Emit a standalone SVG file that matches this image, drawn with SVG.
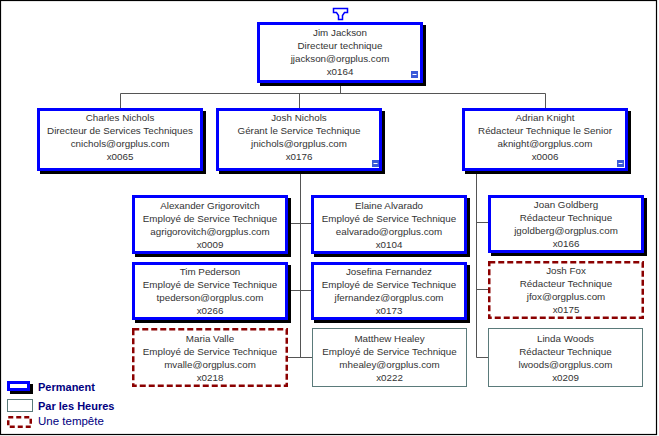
<svg xmlns="http://www.w3.org/2000/svg" width="659" height="436" viewBox="0 0 659 436">
<style>
.sh{fill:#000}
.perm{fill:#fff;stroke:#0000ff;stroke-width:3}
.hour{fill:#fff;stroke:#5a7a7a;stroke-width:1}
.temp{fill:#fff;stroke:#8b0000;stroke-width:2.5;stroke-dasharray:6 3}
.t{font-family:"Liberation Sans",Arial,sans-serif;font-size:9.8px;fill:#333;text-anchor:middle}
.lg{font-family:"Liberation Sans",Arial,sans-serif;font-size:11px;fill:#000080;font-weight:bold}
.cn{stroke:#555;stroke-width:1;fill:none}
.mi{fill:#3a5ad8}
</style>
<defs>
<g id="minus"><rect class="mi" x="0" y="0" width="7" height="7"/><rect x="1.5" y="3" width="4" height="1" fill="#fff"/></g>
</defs>
<rect x="0.5" y="0.5" width="656" height="434" fill="#fff" stroke="#000" stroke-width="1.2"/>

<g id="connectors">
<path class="cn" d="M340.5 86V93.5M120.5 93.5H545.5M120.5 93.5V108M299.5 93.5V108M545.5 93.5V108"/>
<path class="cn" d="M300.5 174V357.5M288 223.5H311M288 290.5H311M287 357.5H312"/>
<path class="cn" d="M476.5 174V357.5M476.5 222.5H488M476.5 289.5H488M476.5 357.5H488"/>
</g>

<g id="top-icon">
<path d="M333.5 8.5H347.5V12.5H344.5L342.5 15.5V19.5H338.5V15.5L336.5 12.5H333.5Z" fill="#fff" stroke="#0000ff" stroke-width="1.5"/>
</g>

<g id="n-jim">
<rect class="sh" x="260" y="25" width="166" height="61"/>
<rect class="perm" x="258.5" y="23.5" width="163" height="58"/>
<text class="t" x="340" y="35.5">Jim Jackson</text>
<text class="t" x="340" y="48.5">Directeur technique</text>
<text class="t" x="340" y="61.5">jjackson@orgplus.com</text>
<text class="t" x="340" y="74.5">x0164</text>
<use href="#minus" x="411" y="71"/>
</g>

<g id="n-charles">
<rect class="sh" x="40" y="111" width="166" height="63"/>
<rect class="perm" x="38.5" y="109.5" width="163" height="60"/>
<text class="t" x="120" y="120.5">Charles Nichols</text>
<text class="t" x="120" y="133.5">Directeur de Services Techniques</text>
<text class="t" x="120" y="146.5">cnichols@orgplus.com</text>
<text class="t" x="120" y="159.5">x0065</text>
</g>

<g id="n-joshn">
<rect class="sh" x="219" y="111" width="166" height="63"/>
<rect class="perm" x="217.5" y="109.5" width="163" height="60"/>
<text class="t" x="299" y="120.5">Josh Nichols</text>
<text class="t" x="299" y="133.5">Gérant le Service Technique</text>
<text class="t" x="299" y="146.5">jnichols@orgplus.com</text>
<text class="t" x="299" y="159.5">x0176</text>
<use href="#minus" x="372" y="160"/>
</g>

<g id="n-adrian">
<rect class="sh" x="465" y="111" width="166" height="63"/>
<rect class="perm" x="463.5" y="109.5" width="163" height="60"/>
<text class="t" x="545" y="120.5">Adrian Knight</text>
<text class="t" x="545" y="133.5">Rédacteur Technique le Senior</text>
<text class="t" x="545" y="146.5">aknight@orgplus.com</text>
<text class="t" x="545" y="159.5">x0006</text>
<use href="#minus" x="617" y="160"/>
</g>

<g id="n-alexander">
<rect class="sh" x="135" y="198" width="156" height="59"/>
<rect class="perm" x="133.5" y="196.5" width="153" height="56"/>
<text class="t" x="210" y="208.5">Alexander Grigorovitch</text>
<text class="t" x="210" y="221.5">Employé de Service Technique</text>
<text class="t" x="210" y="234.5">agrigorovitch@orgplus.com</text>
<text class="t" x="210" y="247.5">x0009</text>
</g>

<g id="n-elaine">
<rect class="sh" x="314" y="198" width="156" height="59"/>
<rect class="perm" x="312.5" y="196.5" width="153" height="56"/>
<text class="t" x="389" y="208.5">Elaine Alvarado</text>
<text class="t" x="389" y="221.5">Employé de Service Technique</text>
<text class="t" x="389" y="234.5">ealvarado@orgplus.com</text>
<text class="t" x="389" y="247.5">x0104</text>
</g>

<g id="n-joan">
<rect class="sh" x="491" y="198" width="156" height="58"/>
<rect class="perm" x="489.5" y="196.5" width="153" height="55"/>
<text class="t" x="566" y="208">Joan Goldberg</text>
<text class="t" x="566" y="221">Rédacteur Technique</text>
<text class="t" x="566" y="234">jgoldberg@orgplus.com</text>
<text class="t" x="566" y="247">x0166</text>
</g>

<g id="n-tim">
<rect class="sh" x="135" y="265" width="156" height="58"/>
<rect class="perm" x="133.5" y="263.5" width="153" height="55"/>
<text class="t" x="210" y="275">Tim Pederson</text>
<text class="t" x="210" y="288">Employé de Service Technique</text>
<text class="t" x="210" y="301">tpederson@orgplus.com</text>
<text class="t" x="210" y="314">x0266</text>
</g>

<g id="n-josefina">
<rect class="sh" x="314" y="265" width="156" height="58"/>
<rect class="perm" x="312.5" y="263.5" width="153" height="55"/>
<text class="t" x="389" y="275">Josefina Fernandez</text>
<text class="t" x="389" y="288">Employé de Service Technique</text>
<text class="t" x="389" y="301">jfernandez@orgplus.com</text>
<text class="t" x="389" y="314">x0173</text>
</g>

<g id="n-joshfox">
<rect class="temp" x="489.25" y="262.25" width="153.5" height="55.5"/>
<text class="t" x="566" y="274">Josh Fox</text>
<text class="t" x="566" y="287">Rédacteur Technique</text>
<text class="t" x="566" y="300">jfox@orgplus.com</text>
<text class="t" x="566" y="313">x0175</text>
</g>

<g id="n-maria">
<rect class="temp" x="133.25" y="329.25" width="153.5" height="56.5"/>
<text class="t" x="210" y="341.5">Maria Valle</text>
<text class="t" x="210" y="354.5">Employé de Service Technique</text>
<text class="t" x="210" y="367.5">mvalle@orgplus.com</text>
<text class="t" x="210" y="380.5">x0218</text>
</g>

<g id="n-matthew">
<rect class="hour" x="312.5" y="328.5" width="154" height="58"/>
<text class="t" x="389.5" y="341.5">Matthew Healey</text>
<text class="t" x="389.5" y="354.5">Employé de Service Technique</text>
<text class="t" x="389.5" y="367.5">mhealey@orgplus.com</text>
<text class="t" x="389.5" y="380.5">x0222</text>
</g>

<g id="n-linda">
<rect class="hour" x="488.5" y="328.5" width="154" height="58"/>
<text class="t" x="565.5" y="341.5">Linda Woods</text>
<text class="t" x="565.5" y="354.5">Rédacteur Technique</text>
<text class="t" x="565.5" y="367.5">lwoods@orgplus.com</text>
<text class="t" x="565.5" y="380.5">x0209</text>
</g>

<g id="legend">
<rect class="sh" x="10" y="384" width="23" height="10"/>
<rect class="perm" x="8.5" y="382.5" width="20" height="7"/>
<text class="lg" x="38" y="391">Permanent</text>
<rect class="hour" x="7.5" y="399.5" width="25" height="12"/>
<text class="lg" x="38" y="410">Par les Heures</text>
<rect x="8.25" y="417.25" width="22.5" height="9.5" fill="#fff" stroke="#8b0000" stroke-width="2.5" stroke-dasharray="5 3"/>
<text class="lg" x="38" y="425" style="font-weight:normal;font-size:11.5px">Une tempête</text>
</g>
</svg>
